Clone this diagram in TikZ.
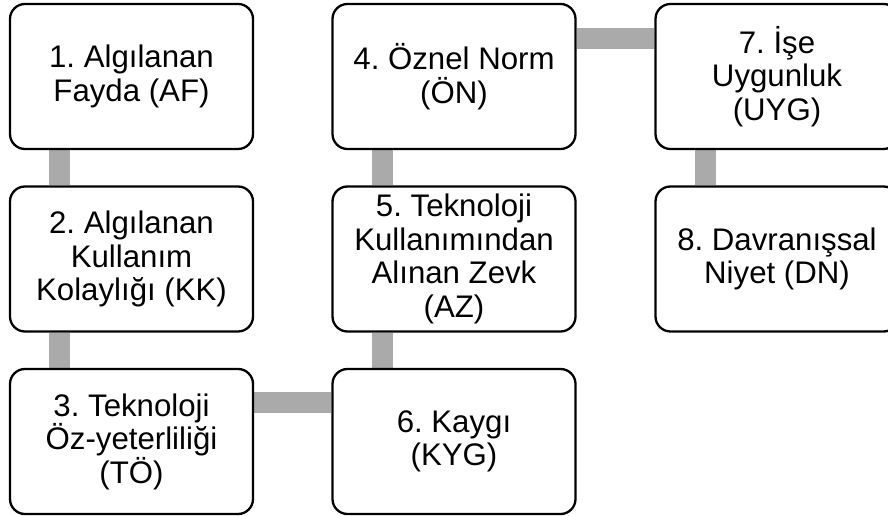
\documentclass[tikz,border=0pt]{standalone}
\usepackage{fontspec}
\setmainfont{Liberation Sans}
\usetikzlibrary{backgrounds}
\frenchspacing
\begin{document}
\begin{tikzpicture}[x=1pt,y=1pt,
  box/.style={draw=black, line width=2.3pt, fill=white, rounded corners=15pt,
    minimum width=243pt, minimum height=145pt, inner sep=0pt, align=center,
    font=\fontsize{31.2pt}{33.5pt}\selectfont\frenchspacing},
  link/.style={draw={rgb,255:red,170;green,170;blue,170}, line width=21pt}]
\useasboundingbox (0,0) rectangle (888,516);
\clip (0,0) rectangle (888,516);
\node[box] (b1) at (131.5,439.5) {1. Algılanan\\Fayda (AF)};
\node[box] (b2) at (131.5,257) {2. Algılanan\\Kullanım\\Kolaylığı (KK)};
\node[box] (b3) at (131.5,74.5) {3. Teknoloji\\Öz-yeterliliği\\(TÖ)};
\node[box] (b4) at (454,439.5) {4. Öznel Norm\\(ÖN)};
\node[box] (b5) at (454,257) {5. Teknoloji\\Kullanımından\\Alınan Zevk\\(AZ)};
\node[box] (b6) at (454,74.5) {6. Kaygı\\(KYG)};
\node[box] (b7) at (777,439.5) {7. İşe\\Uygunluk\\(UYG)};
\node[box] (b8) at (777,257) {8. Davranışsal\\Niyet (DN)};
\begin{scope}[on background layer]
\draw[link] ([xshift=51pt]b1.south west) -- ([xshift=51pt]b2.north west);
\draw[link] ([xshift=51pt]b2.south west) -- ([xshift=51pt]b3.north west);
\draw[link] ([yshift=-35pt]b3.north east) -- ([yshift=-35pt]b6.north west);
\draw[link] ([xshift=51pt]b6.north west) -- ([xshift=51pt]b5.south west);
\draw[link] ([xshift=51pt]b5.north west) -- ([xshift=51pt]b4.south west);
\draw[link] ([yshift=-36pt]b4.north east) -- ([yshift=-36pt]b7.north west);
\draw[link] ([xshift=51pt]b7.south west) -- ([xshift=51pt]b8.north west);
\end{scope}
\end{tikzpicture}
\end{document}
